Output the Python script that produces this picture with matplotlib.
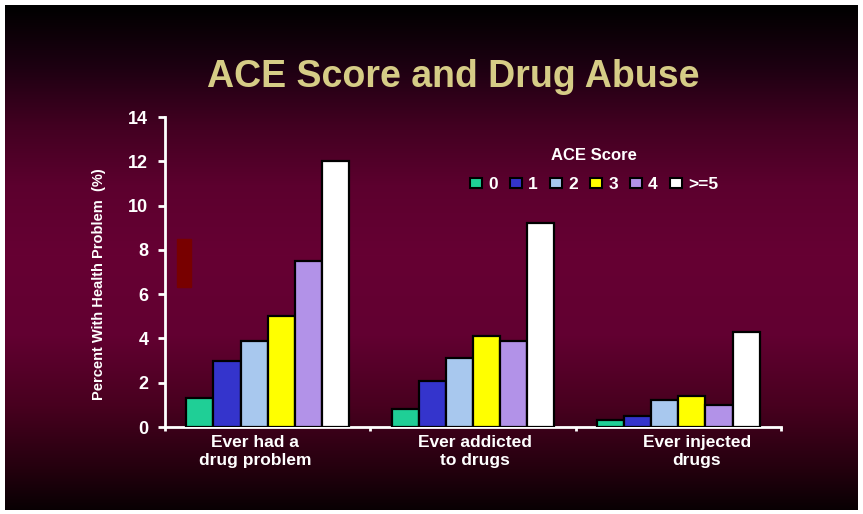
import matplotlib
matplotlib.use("Agg")
import matplotlib.pyplot as plt
from matplotlib.patches import Patch, Rectangle
import numpy as np

plt.rcParams['font.family'] = ['Liberation Sans', 'DejaVu Sans']

# data
groups = ["Ever had a\ndrug problem", "Ever addicted\nto drugs", "Ever injected\ndrugs"]
scores = ["0", "1", "2", "3", "4", ">=5"]
score_0 = [1.3, 0.8, 0.3]
score_1 = [3.0, 2.1, 0.5]
score_2 = [3.9, 3.1, 1.2]
score_3 = [5.0, 4.1, 1.4]
score_4 = [7.5, 3.9, 1.0]
score_5 = [12.0, 9.2, 4.3]
series = [score_0, score_1, score_2, score_3, score_4, score_5]
colors = ["#1fcf96", "#3434cc", "#a8c8ee", "#ffff00", "#b292e8", "#ffffff"]

W, H = 863, 514
fig = plt.figure(figsize=(W / 100, H / 100), dpi=100)
fig.patch.set_facecolor("white")

# slide background gradient
bg = fig.add_axes([5 / W, 4 / H, 853 / W, 505 / H])
stops_y = [0, 60, 120, 180, 250, 330, 400, 460, 505]
stops_c = ["#000000", "#1c0011", "#420021", "#5c002e", "#660033", "#620031",
           "#48001f", "#26000f", "#080003"]
rgb = np.array([matplotlib.colors.to_rgb(c) for c in stops_c])
yy = np.arange(505)
grad = np.stack([np.interp(yy, stops_y, rgb[:, k]) for k in range(3)], axis=-1)
bg.imshow(grad[:, None, :], aspect="auto", extent=[0, 1, 0, 1])
bg.set_axis_off()

# red artefact on the slide
fig.patches.append(Rectangle((177 / W, 1 - 287 / H), 14 / W, 48 / H,
                             transform=fig.transFigure, color="#780000", zorder=1))

ax = fig.add_axes([165 / W, 1 - 427 / H, 616 / W, 310 / H])
ax.patch.set_alpha(0)
x = np.arange(len(groups))
bw = 0.132
for i, (vals, c) in enumerate(zip(series, colors)):
    ax.bar(x + (i - 2.5) * bw, vals, bw, color=c, edgecolor="black", linewidth=1.6,
           label=scores[i], zorder=3)

ax.set_xlim(-0.5, 2.5)
ax.set_ylim(0, 14)
ax.set_yticks(range(0, 15, 2))
for s in ["top", "right"]:
    ax.spines[s].set_visible(False)
for s in ["left", "bottom"]:
    ax.spines[s].set_color("white")
    ax.spines[s].set_linewidth(2)
ax.tick_params(axis="y", colors="white", length=5, width=2, labelsize=13, pad=7)
for t in ax.get_yticklabels():
    t.set_fontweight("bold")
ax.set_xticks([-0.5, 0.5, 1.5, 2.5])
ax.set_xticklabels([])
ax.tick_params(axis="x", colors="white", length=3, width=2, direction="out")

ax.set_ylabel("Percent With Health Problem  (%)", color="white", fontsize=10.5,
              fontweight="bold")
ax.yaxis.set_label_coords(-0.096, 0.46)

label_x = [-0.06, 1.01, 2.09]
for lx, g in zip(label_x, groups):
    ax.text(lx, -0.35, g, ha="center", va="top", color="white", fontsize=12.5,
            fontweight="bold", linespacing=1.25)

fig.text(453 / W, 1 - 77 / H, "ACE Score and Drug Abuse", ha="center", va="center",
         color="#d6cc86", fontsize=27, fontweight="bold")

handles = [Patch(facecolor=c, edgecolor="black", linewidth=1.5) for c in colors]
leg = fig.legend(handles, scores, ncol=6, loc="center", bbox_to_anchor=(594 / W, 1 - 170 / H),
                 frameon=False, handlelength=0.7, handleheight=0.55, handletextpad=0.35,
                 columnspacing=0.7, title="ACE Score",
                 title_fontproperties={"weight": "bold", "size": 12},
                 prop={"weight": "bold", "size": 12.5})
leg.get_title().set_color("white")
leg._legend_box.sep = 10
for t in leg.get_texts():
    t.set_color("white")

fig.savefig("out.png", dpi=100)
